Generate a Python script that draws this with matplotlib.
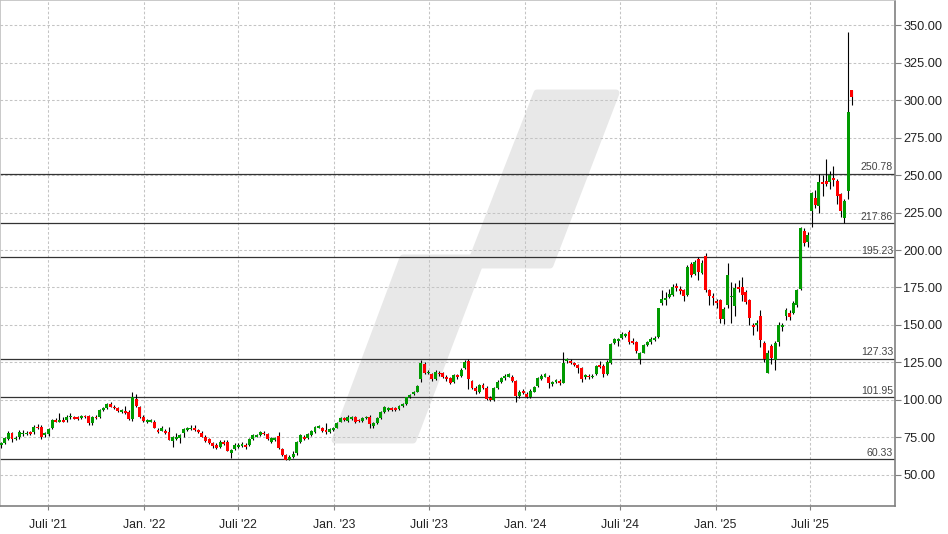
import numpy as np
import pandas as pd
import matplotlib
matplotlib.use("Agg")
import matplotlib.pyplot as plt
import matplotlib.dates as mdates
from matplotlib.patches import Polygon

plt.rcParams['font.family'] = ['Liberation Sans', 'DejaVu Sans']

# weekly candles, first week 2021-04-02
start = "2021-04-02"

opens = [69.8, 71.6, 73.8, 77.8, 73.8, 75.6, 77.1, 77.3, 78.4, 78.9,
         82.2, 81.8, 76.7, 77.1, 81.1, 86.7, 85.6, 86.7, 86.7, 88.4,
         88.4, 88.4, 88.2, 89.3, 89.3, 84.4, 88.9, 88.9, 93.3, 94.4,
         97.3, 95.6, 94.4, 92.2, 92.7, 92.2, 87.3, 100.7, 95.1, 88.9,
         85.6, 85.6, 85.6, 80.0, 79.6, 79.3, 78.9, 72.9, 74.0, 74.4,
         77.8, 80.0, 80.7, 81.6, 80.0, 78.2, 75.6, 73.8, 71.1, 70.0,
         68.9, 71.8, 72.2, 64.9, 67.3, 68.9, 69.3, 70.0, 70.0, 74.0,
         75.6, 76.7, 78.2, 77.3, 72.2, 73.3, 76.0, 67.3, 63.3, 60.0,
         61.8, 64.4, 72.2, 75.6, 74.9, 76.7, 78.9, 81.6, 81.1, 80.0,
         78.9, 79.8, 81.6, 85.6, 87.8, 86.0, 87.3, 88.4, 86.7, 86.0,
         87.8, 88.9, 82.7, 84.4, 88.2, 91.8, 93.3, 94.9, 94.9, 94.0,
         96.2, 97.1, 101.8, 104.0, 105.6, 113.8, 124.0, 117.8, 117.3, 113.8,
         118.2, 117.8, 115.6, 114.9, 112.2, 116.7, 116.0, 121.1, 126.2, 112.9,
         107.8, 105.6, 110.0, 108.2, 101.6, 100.0, 107.8, 111.8, 114.4, 115.6,
         115.6, 112.9, 102.9, 106.2, 104.0, 102.2, 105.6, 109.3, 114.0, 115.6,
         115.6, 110.4, 111.8, 112.9, 111.6, 126.0, 126.2, 124.4, 123.3, 121.1,
         115.6, 116.2, 115.1, 117.3, 123.3, 122.7, 117.3, 124.9, 137.8, 139.6,
         141.1, 142.7, 145.6, 139.6, 138.4, 127.3, 131.6, 136.7, 138.4, 140.0,
         142.2, 164.9, 166.7, 168.9, 170.0, 176.2, 174.0, 173.3, 170.0, 190.7,
         184.0, 194.0, 184.9, 196.0, 173.3, 169.6, 166.2, 166.7, 154.0, 163.3,
         168.4, 162.9, 175.6, 175.5, 172.0, 166.7, 150.0, 150.0, 156.0, 138.2,
         118.2, 136.0, 126.7, 138.9, 148.9, 156.0, 158.2, 158.2, 163.3, 174.0,
         212.7, 205.6, 226.2, 234.4, 229.6, 245.6, 246.0, 245.6, 247.8, 246.2,
         237.3, 221.6, 239.5, 306.7]

highs = [72.0, 75.0, 79.0, 78.9, 76.0, 80.0, 80.0, 79.0, 79.5, 83.5,
         84.0, 83.0, 78.5, 81.5, 87.5, 88.0, 91.1, 88.5, 90.0, 91.0,
         89.5, 89.0, 90.0, 90.0, 90.0, 89.5, 90.0, 93.8, 95.0, 98.0,
         98.5, 96.5, 95.0, 94.0, 96.0, 93.0, 105.6, 104.0, 96.0, 90.0,
         87.5, 87.5, 86.5, 81.5, 82.5, 80.5, 82.0, 76.0, 78.0, 77.5,
         81.5, 82.0, 83.0, 83.0, 80.8, 79.0, 76.5, 74.5, 72.0, 71.0,
         73.0, 73.0, 73.5, 67.5, 71.0, 71.0, 72.0, 71.0, 74.5, 77.5,
         77.2, 79.0, 79.0, 78.0, 75.0, 75.5, 78.9, 68.0, 64.0, 63.0,
         66.0, 72.5, 77.0, 76.5, 78.0, 80.0, 82.5, 83.5, 82.0, 84.9,
         81.0, 82.0, 85.5, 88.5, 88.5, 90.0, 89.5, 89.0, 87.5, 88.5,
         89.5, 90.0, 85.5, 88.5, 92.5, 96.0, 95.5, 95.5, 95.5, 96.5,
         98.0, 102.0, 104.0, 106.0, 109.8, 126.7, 125.0, 120.0, 118.0, 120.0,
         119.5, 118.5, 116.5, 115.5, 117.5, 117.5, 121.0, 126.5, 127.0, 113.5,
         109.0, 110.5, 111.0, 109.0, 102.5, 108.5, 113.0, 115.5, 117.0, 118.0,
         116.5, 113.5, 106.5, 107.0, 105.0, 107.0, 109.5, 115.0, 117.0, 118.0,
         116.5, 112.5, 114.0, 114.0, 132.2, 128.0, 127.5, 125.5, 124.0, 122.0,
         117.5, 117.0, 117.0, 123.5, 126.0, 124.0, 126.5, 138.0, 141.5, 141.5,
         145.0, 144.5, 146.5, 141.0, 139.0, 132.0, 137.5, 139.5, 142.0, 142.5,
         161.5, 173.3, 172.0, 174.0, 177.0, 178.0, 176.0, 174.0, 190.0, 192.0,
         193.0, 195.0, 193.0, 198.0, 174.0, 171.0, 167.0, 167.5, 162.0, 191.1,
         178.9, 178.0, 180.0, 181.8, 173.5, 167.5, 151.0, 153.0, 160.0, 139.0,
         133.0, 137.0, 139.0, 152.0, 151.0, 161.5, 160.0, 166.0, 174.0, 215.5,
         215.0, 212.0, 238.5, 240.0, 251.0, 250.0, 260.4, 253.0, 256.0, 247.5,
         238.0, 234.0, 345.5, 307.0]

lows = [67.8, 70.8, 73.0, 72.2, 73.0, 74.0, 76.0, 76.5, 76.5, 77.0,
        80.5, 74.0, 75.0, 76.0, 80.5, 85.0, 85.0, 85.0, 85.0, 87.5,
        87.0, 86.8, 87.5, 87.8, 83.3, 83.0, 87.0, 88.0, 92.5, 94.0,
        95.0, 94.0, 92.0, 91.5, 90.5, 86.5, 86.0, 95.5, 88.0, 85.5,
        84.5, 85.0, 81.0, 78.0, 79.0, 77.5, 73.0, 68.9, 73.5, 71.0,
        75.0, 79.5, 80.0, 79.5, 78.0, 75.0, 72.0, 70.5, 68.0, 67.0,
        68.0, 70.0, 66.0, 61.1, 66.5, 68.0, 68.8, 67.5, 69.5, 73.0,
        75.0, 76.0, 76.5, 73.0, 71.5, 72.5, 67.5, 62.5, 60.0, 59.8,
        61.0, 63.5, 71.0, 73.0, 74.0, 76.0, 78.0, 81.0, 78.5, 77.0,
        78.0, 79.0, 81.0, 85.0, 86.0, 85.5, 86.5, 84.5, 85.5, 85.5,
        87.0, 81.0, 81.5, 84.0, 87.5, 91.0, 92.5, 92.5, 92.5, 93.5,
        95.5, 96.5, 101.0, 103.5, 105.0, 112.0, 117.0, 117.0, 112.5, 113.0,
        116.0, 114.5, 112.5, 110.5, 111.5, 114.0, 115.5, 120.5, 107.1, 107.0,
        104.0, 104.5, 107.0, 100.0, 99.0, 99.0, 107.0, 111.0, 113.5, 115.0,
        112.0, 98.4, 101.5, 104.0, 101.0, 101.5, 105.0, 108.5, 113.0, 115.0,
        108.0, 109.5, 111.0, 110.0, 111.0, 124.5, 124.0, 122.5, 118.0, 112.0,
        114.0, 114.0, 114.5, 116.5, 121.5, 115.0, 116.5, 124.0, 137.0, 136.0,
        140.5, 142.0, 137.5, 137.5, 131.5, 124.0, 131.0, 136.0, 137.5, 139.0,
        141.5, 163.0, 163.0, 168.0, 169.5, 172.5, 170.5, 166.0, 169.0, 182.0,
        183.0, 180.0, 184.0, 172.0, 163.0, 163.0, 161.0, 151.0, 150.5, 161.0,
        151.1, 156.0, 172.0, 166.0, 164.0, 150.0, 143.0, 146.0, 135.0, 125.0,
        118.0, 124.0, 120.0, 136.0, 146.0, 153.5, 153.0, 157.0, 162.0, 173.0,
        203.0, 202.0, 215.6, 228.0, 225.0, 236.0, 243.0, 241.0, 243.0, 231.0,
        222.0, 218.0, 234.0, 296.7]

closes = [71.1, 74.4, 78.2, 73.8, 74.9, 78.9, 78.2, 78.2, 77.3, 82.2,
          81.1, 75.6, 77.8, 80.7, 86.7, 85.6, 86.7, 85.6, 88.9, 89.3,
          87.6, 87.6, 89.3, 88.4, 84.9, 88.9, 87.8, 93.3, 94.4, 97.3,
          95.6, 94.4, 92.9, 93.3, 91.1, 87.3, 101.8, 96.0, 88.9, 86.2,
          86.7, 86.7, 81.6, 78.9, 81.6, 78.2, 73.3, 75.6, 75.6, 76.7,
          80.7, 81.1, 81.6, 80.0, 78.4, 75.6, 72.7, 71.1, 69.6, 67.8,
          72.2, 70.7, 66.2, 66.7, 70.0, 70.0, 70.4, 68.9, 74.0, 76.7,
          76.7, 78.4, 77.1, 73.8, 74.4, 74.9, 67.8, 63.3, 60.0, 62.2,
          64.0, 72.2, 76.7, 74.2, 77.1, 79.3, 82.2, 82.7, 79.3, 78.4,
          80.4, 81.1, 84.9, 88.2, 86.7, 88.4, 88.9, 85.6, 86.0, 88.2,
          88.9, 83.8, 84.9, 87.8, 92.2, 95.6, 94.9, 93.3, 93.3, 96.2,
          97.3, 101.8, 103.3, 105.6, 109.3, 124.9, 118.2, 118.9, 113.8, 118.9,
          117.1, 115.6, 113.8, 111.6, 116.7, 115.6, 120.0, 125.6, 113.8, 108.2,
          106.0, 110.0, 107.8, 100.7, 100.0, 107.8, 112.2, 114.9, 116.0, 117.1,
          112.9, 102.9, 105.6, 104.9, 102.2, 106.2, 108.9, 114.4, 116.0, 117.1,
          111.1, 111.8, 113.3, 111.6, 124.9, 127.1, 124.9, 123.3, 121.1, 113.8,
          116.7, 115.1, 116.2, 122.7, 122.2, 117.3, 125.6, 137.3, 140.7, 140.7,
          144.0, 144.0, 138.4, 138.2, 132.7, 131.6, 136.7, 138.9, 140.7, 141.6,
          161.1, 167.1, 168.2, 170.4, 175.6, 174.4, 172.9, 169.6, 188.4, 183.3,
          191.8, 185.6, 191.6, 173.3, 169.6, 168.2, 164.9, 154.0, 160.7, 183.3,
          169.3, 174.4, 173.8, 170.0, 165.6, 154.9, 148.9, 151.6, 140.0, 127.1,
          131.6, 127.8, 138.2, 150.0, 150.0, 160.0, 155.6, 164.9, 173.3, 214.4,
          204.9, 210.0, 237.8, 230.0, 245.6, 244.0, 244.0, 250.0, 246.7, 236.2,
          226.2, 232.9, 292.2, 302.2]

levels = [250.78, 217.86, 195.23, 127.33, 101.95, 60.33]

x_ticks = ["2021-07-01", "2022-01-01", "2022-07-01", "2023-01-01", "2023-07-01",
           "2024-01-01", "2024-07-01", "2025-01-01", "2025-07-01"]
x_labels = ["Juli '21", "Jan. '22", "Juli '22", "Jan. '23", "Juli '23",
            "Jan. '24", "Juli '24", "Jan. '25", "Juli '25"]
y_ticks = np.arange(50, 351, 25)

W, H = 948, 534
fig = plt.figure(figsize=(W / 100, H / 100), dpi=100)
ax_w, ax_h = 895, 506
ax = fig.add_axes([0, 1 - ax_h / H, ax_w / W, ax_h / H])

dates = mdates.date2num(pd.date_range(start, periods=len(closes), freq="7D"))
o = np.array(opens)
c = np.array(closes)
up = c >= o

# watermark (pixel coordinates inside the axes)
def px(pts):
    return [(x / ax_w, 1 - y / ax_h) for x, y in pts]

wm = '#e8e8e8'
upper = px([(537, 93), (616, 93), (550, 265), (470, 265)])
lower = px([(403, 258), (482, 258), (413, 440), (335, 440)])
for pts in (upper, lower):
    ax.add_patch(Polygon(pts, closed=True, transform=ax.transAxes, facecolor=wm,
                         edgecolor=wm, linewidth=5, joinstyle='round', zorder=0))

# grid
grid_kw = dict(color='#c4c4c4', linewidth=0.75, linestyle=(0, (2.5, 2)), zorder=1)
for yv in y_ticks:
    ax.axhline(yv, **grid_kw)
for d in x_ticks:
    ax.axvline(mdates.datestr2num(d), **grid_kw)

# support / resistance lines
for lv in levels:
    ax.axhline(lv, color='#333333', linewidth=0.9, zorder=2)
    ax.annotate(f"{lv:.2f}", xy=(1, lv), xycoords=('axes fraction', 'data'),
                xytext=(-2, 1.5), textcoords='offset pixels', ha='right', va='bottom',
                fontsize=7.6, color='#444444', zorder=5)

# candles
ax.vlines(dates, lows, highs, color='black', linewidth=0.8, zorder=3)
body_w = 5.6
bottoms = np.minimum(o, c)
heights = np.maximum(np.abs(c - o), 0.7)
ax.bar(dates[up], heights[up], bottom=bottoms[up], width=body_w,
       color='#009a00', linewidth=0, zorder=4)
ax.bar(dates[~up], heights[~up], bottom=bottoms[~up], width=body_w,
       color='#ff0000', linewidth=0, zorder=4)

d0 = mdates.datestr2num(start)
ax.set_xlim(d0 - 2, d0 + 1714)
ax.set_ylim(29.3, 366.7)

ax.set_xticks([mdates.datestr2num(d) for d in x_ticks])
ax.set_xticklabels(x_labels)
ax.set_yticks(y_ticks)
ax.set_yticklabels([f"{v:.2f}" for v in y_ticks])
ax.yaxis.tick_right()
ax.tick_params(axis='y', length=4, width=0.8, color='#808080', pad=2,
               labelsize=9.2, labelcolor='#222222')
ax.tick_params(axis='x', length=3, width=0.8, color='#808080', pad=6,
               labelsize=8.8, labelcolor='#222222')

for side in ('left', 'top'):
    ax.spines[side].set_color('#c0c0c0')
for side in ('right', 'bottom'):
    ax.spines[side].set_color('#808080')
for sp in ax.spines.values():
    sp.set_linewidth(1.2)

fig.savefig("out.png", dpi=100)
